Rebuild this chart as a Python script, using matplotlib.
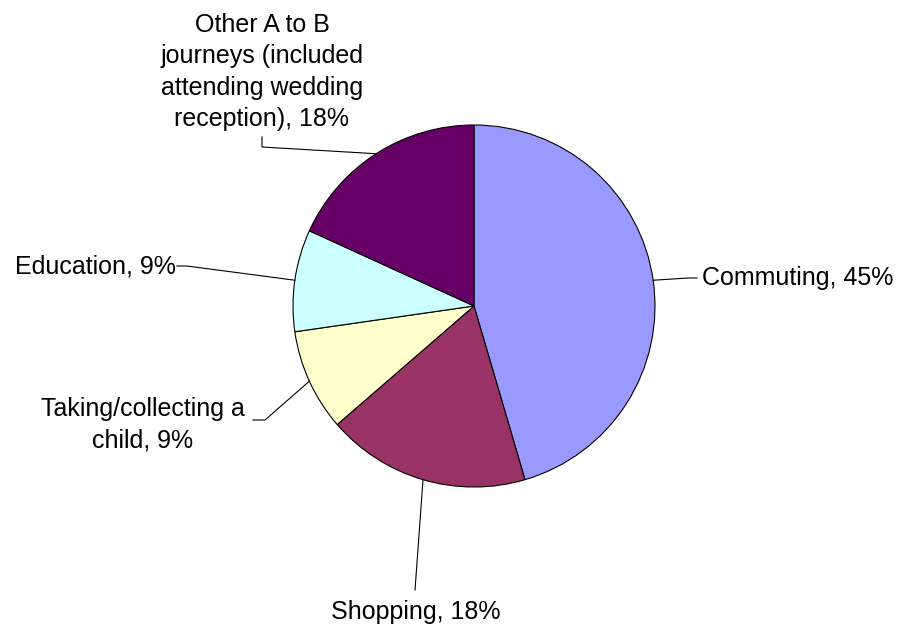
import numpy as np
import matplotlib.pyplot as plt

# journey purposes (11 journeys in total)
categories = ['Commuting', 'Shopping', 'Taking/collecting a\nchild', 'Education',
              'Other A to B\njourneys (included\nattending wedding\nreception)']
journeys = [5, 2, 1, 1, 2]
colors = ['#9999FF', '#993366', '#FFFFCC', '#CCFFFF', '#660066']

W, H = 904, 628
plt.rcParams['font.family'] = ['Liberation Sans', 'DejaVu Sans']

fig = plt.figure(figsize=(W / 100, H / 100), dpi=100)
ax = fig.add_axes([0, 0, 1, 1])

def Y(y):
    # pixel row from top -> data y
    return H - y

cx, cy, r = 474, Y(306), 181
wedges, _ = ax.pie(journeys, colors=colors, startangle=90, counterclock=False,
                   center=(cx, cy), radius=r,
                   wedgeprops=dict(edgecolor='black', linewidth=0.8))

# label layout: (elbow, end of leader, text anchor, ha)
layout = [
    ((688, 278), (697, 278), (702, 278), 'left'),
    ((415, 590), (415, 590), (416, 612), 'center'),
    ((265, 420), (253, 420), (143, 425), 'center'),
    ((187, 266), (177, 266), (176, 267), 'right'),
    ((262, 147), (262, 137), (262, 72), 'center'),
]

total = sum(journeys)
for w, name, val, (elb, end, txt, ha) in zip(wedges, categories, journeys, layout):
    mid = np.deg2rad((w.theta1 + w.theta2) / 2)
    px, py = cx + r * np.cos(mid), cy + r * np.sin(mid)
    ax.plot([px, elb[0], end[0]], [py, Y(elb[1]), Y(end[1])], color='black', lw=0.8)
    ax.text(txt[0], Y(txt[1]), f'{name}, {round(100 * val / total)}%', ha=ha, va='center',
            fontsize=18, multialignment='center', linespacing=1.37)

ax.set_xlim(0, W)
ax.set_ylim(0, H)
ax.set_aspect('equal')
ax.axis('off')

fig.savefig('out.png', dpi=100)
